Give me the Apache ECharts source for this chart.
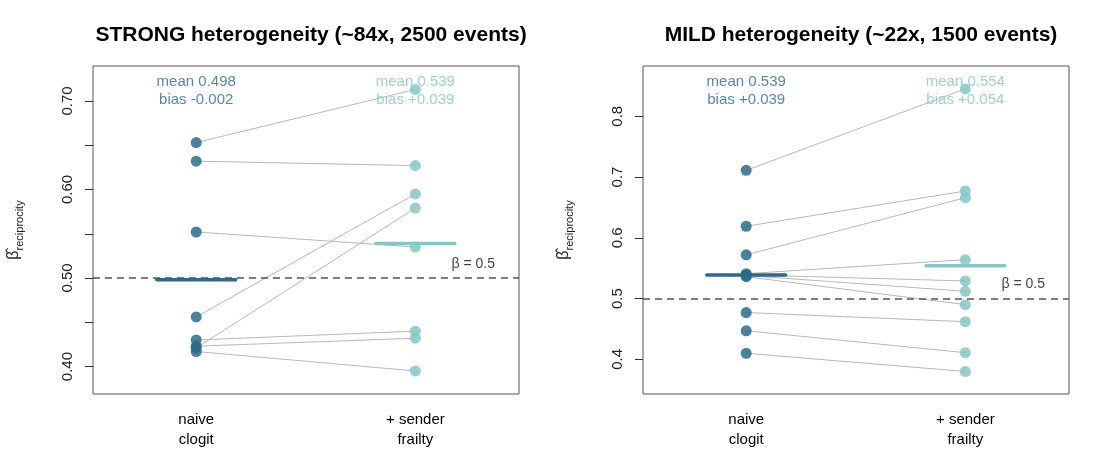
<!DOCTYPE html>
<html>
<head>
<meta charset="utf-8">
<script src="https://cdn.jsdelivr.net/npm/echarts@6/dist/echarts.min.js"></script>
<style>
  html, body { margin: 0; padding: 0; background: #fff; }
  #chart { width: 1100px; height: 470px; }
</style>
</head>
<body>
<div id="chart"></div>
<script>
// x positions of the two estimators
var methodX = [1, 2];
var methodLabels = ['naive\nclogit', '+ sender\nfrailty'];
var panelTitles = ['STRONG heterogeneity (~84x, 2500 events)', 'MILD heterogeneity (~22x, 1500 events)'];

// estimates per simulated run, paired by index
var strongNaive   = [0.653, 0.632, 0.552, 0.456, 0.430, 0.423, 0.421, 0.417];
var strongFrailty = [0.713, 0.627, 0.535, 0.595, 0.440, 0.432, 0.579, 0.395];
var mildNaive     = [0.711, 0.619, 0.572, 0.541, 0.539, 0.538, 0.536, 0.477, 0.447, 0.410];
var mildFrailty   = [0.845, 0.677, 0.666, 0.564, 0.529, 0.512, 0.490, 0.462, 0.411, 0.380];

// summaries printed in the panels
var strongMeans = [0.498, 0.539];
var mildMeans   = [0.539, 0.554];
var strongStats = ['mean 0.498\nbias -0.002', 'mean 0.539\nbias +0.039'];
var mildStats   = ['mean 0.539\nbias +0.039', 'mean 0.554\nbias +0.054'];

var trueBeta = 0.5;

// y tick marks / labels
var strongTicks  = [0.40, 0.45, 0.50, 0.55, 0.60, 0.65, 0.70];
var strongLabels = [0.40, 0.50, 0.60, 0.70];
var mildTicks    = [0.4, 0.5, 0.6, 0.7, 0.8];
var mildLabels   = [0.4, 0.5, 0.6, 0.7, 0.8];

var DARK = '#2b6b8b';
var LIGHT = '#86c6c6';
var FONT = 'Liberation Sans, Arial, sans-serif';

var panels = [
    {naive: strongNaive, frailty: strongFrailty, means: strongMeans, stats: strongStats,
     ticks: strongTicks, labels: strongLabels, digits: 2, ymin: 0.369, ymax: 0.7395,
     left: 93, right: 581, center: 306},
    {naive: mildNaive, frailty: mildFrailty, means: mildMeans, stats: mildStats,
     ticks: mildTicks, labels: mildLabels, digits: 1, ymin: 0.343, ymax: 0.8827,
     left: 643, right: 31, center: 856}
];

var option = {
    animation: false,
    backgroundColor: '#fff',
    textStyle: { fontFamily: FONT },
    title: [], grid: [], xAxis: [], yAxis: [], series: []
};

panels.forEach(function (p, i) {
    option.title.push({
        text: panelTitles[i], left: p.center, top: 20, textAlign: 'center',
        textStyle: { fontSize: 21, fontWeight: 'bold', color: '#000', fontFamily: FONT }
    });
    option.grid.push({
        left: p.left, right: p.right, top: 66, bottom: 76,
        show: true, borderColor: '#555', borderWidth: 1, backgroundColor: 'transparent'
    });
    option.xAxis.push({
        type: 'value', gridIndex: i, min: 0.529, max: 2.473,
        splitLine: { show: false }, axisLine: { show: false }, axisTick: { show: false },
        axisLabel: {
            customValues: methodX, fontSize: 15, color: '#000', lineHeight: 20, margin: 16,
            formatter: function (v) { return methodLabels[methodX.indexOf(v)]; }
        }
    });
    option.yAxis.push({
        type: 'value', gridIndex: i, min: p.ymin, max: p.ymax,
        splitLine: { show: false }, axisLine: { show: false },
        axisTick: { show: true, customValues: p.ticks, length: 8, lineStyle: { color: '#333' } },
        axisLabel: {
            customValues: p.labels, rotate: 90, fontSize: 15, color: '#222', margin: 18,
            formatter: function (v) { return v.toFixed(p.digits); }
        },
        name: '{b|β̂}{s|reciprocity}', nameLocation: 'middle', nameRotate: 90, nameGap: 68,
        nameTextStyle: {
            rich: {
                b: { fontSize: 16, color: '#222', lineHeight: 22, verticalAlign: 'middle' },
                s: { fontSize: 11, color: '#222', lineHeight: 22, verticalAlign: 'bottom', padding: [8, 0, 0, 0] }
            }
        }
    });

    // connecting segments for each run
    option.series.push({
        type: 'lines', coordinateSystem: 'cartesian2d', xAxisIndex: i, yAxisIndex: i, z: 1,
        lineStyle: { color: '#b8b8b8', width: 1, opacity: 1 },
        data: p.naive.map(function (v, k) {
            return { coords: [[methodX[0], v], [methodX[1], p.frailty[k]]] };
        })
    });
    [p.naive, p.frailty].forEach(function (vals, m) {
        option.series.push({
            type: 'scatter', xAxisIndex: i, yAxisIndex: i, z: 2, symbolSize: 11,
            itemStyle: { color: m === 0 ? DARK : LIGHT, opacity: 0.85 },
            data: vals.map(function (v) { return [methodX[m], v]; })
        });
        // mean bar
        option.series.push({
            type: 'line', xAxisIndex: i, yAxisIndex: i, z: 3, symbol: 'none',
            lineStyle: { color: m === 0 ? DARK : LIGHT, width: 3.5, cap: 'round' },
            data: [[methodX[m] - 0.18, p.means[m]], [methodX[m] + 0.18, p.means[m]]]
        });
        // mean / bias text
        option.series.push({
            type: 'scatter', xAxisIndex: i, yAxisIndex: i, z: 4, symbolSize: 0, silent: true,
            label: {
                show: true, position: 'bottom', distance: 7, formatter: p.stats[m],
                fontSize: 15, lineHeight: 18, color: m === 0 ? DARK : LIGHT, align: 'center'
            },
            data: [[methodX[m], p.ymax]]
        });
    });
    // reference line at true beta
    option.series.push({
        type: 'line', xAxisIndex: i, yAxisIndex: i, z: 5, data: [], symbol: 'none',
        markLine: {
            silent: true, symbol: 'none',
            lineStyle: { color: '#555', type: [7, 5], width: 1.5 },
            label: {
                show: true, position: 'insideEndTop', formatter: 'β = 0.5',
                fontSize: 14, color: '#444', distance: [24, 7]
            },
            data: [{ yAxis: trueBeta }]
        }
    });
});

var chart = echarts.init(document.getElementById('chart'), null, { renderer: 'canvas' });
chart.setOption(option);
</script>
</body>
</html>
